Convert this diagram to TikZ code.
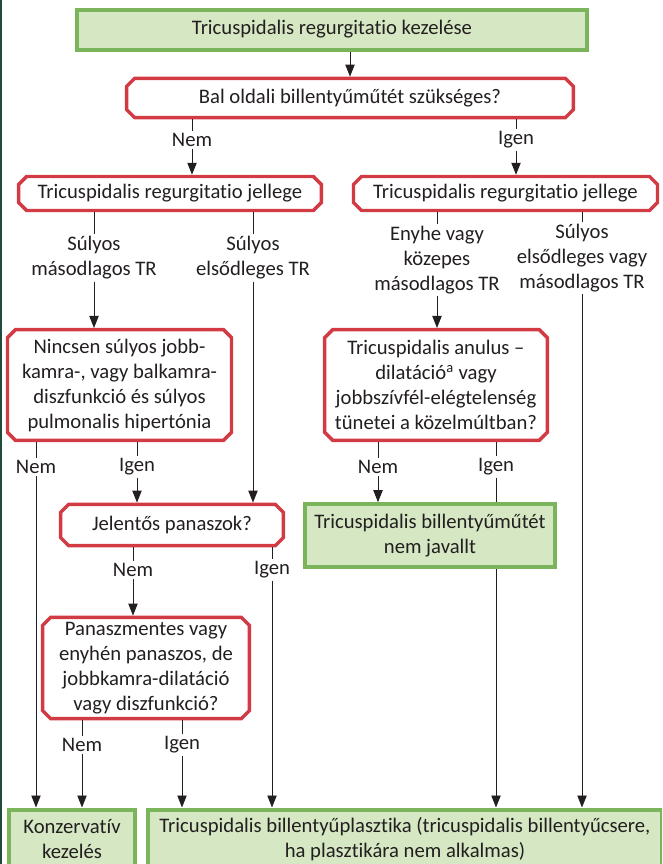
\documentclass[tikz,border=0pt]{standalone}
\usepackage{fontspec}
\setmainfont[Ligatures=NoCommon]{Carlito}
\usetikzlibrary{shapes.misc,arrows.meta}
\definecolor{boxgreen}{HTML}{D5E8C3}
\definecolor{linegreen}{HTML}{7AB55C}
\definecolor{boxred}{HTML}{D23B44}
\definecolor{sidebar}{HTML}{1F4A3E}
\definecolor{ink}{HTML}{231F20}

\begin{document}
\begin{tikzpicture}[x=0.75pt,y=-0.75pt,font=\fontsize{15.5}{18.75}\selectfont]
\tikzstyle{result}=[rectangle,draw=linegreen,fill=boxgreen,line width=3pt,align=center,inner sep=0pt,text=ink]
\tikzstyle{question}=[chamfered rectangle,chamfered rectangle xsep=3pt,chamfered rectangle ysep=3pt,draw=boxred,fill=white,line width=2.6pt,align=center,inner sep=0pt,text=ink]
\tikzstyle{lab}=[align=center,inner sep=1.5pt,text=ink]
\tikzstyle{conn}=[draw=ink,line width=0.7pt]
\tikzstyle{arr}=[conn,-{Triangle[length=9pt,width=7pt]}]
\useasboundingbox (0,0) rectangle (662,864);
\clip (0,0) rectangle (662,864);
\fill[white] (0,0) rectangle (662,864);
\fill[sidebar] (0,0) rectangle (2,864);
% boxes
\node[result,minimum width=382pt,minimum height=30pt] (top) at (332,29.5) {Tricuspidalis regurgitatio kezelése};
\node[question,minimum width=335pt,minimum height=29.5pt] (bal) at (350,98) {Bal oldali billentyűműtét szükséges?};
\node[question,minimum width=227pt,minimum height=25.5pt] (jl) at (170,193.5) {Tricuspidalis regurgitatio jellege};
\node[question,minimum width=228pt,minimum height=25.5pt] (jr) at (505.5,193.5) {Tricuspidalis regurgitatio jellege};
\node[question,minimum width=168pt,minimum height=83pt] (nincs) at (119.5,385) {Nincsen súlyos jobb-\\kamra-, vagy balkamra-\\diszfunkció és súlyos\\pulmonalis hipertónia};
\node[question,minimum width=167pt,minimum height=83pt] (anulus) at (436,385) {Tricuspidalis anulus –\\dilatáció\textsuperscript{a} vagy\\jobbszívfél-elégtelenség\\tünetei a közelmúltban?};
\node[question,minimum width=167pt,minimum height=31pt] (jelentos) at (172,525) {Jelentős panaszok?};
\node[question,minimum width=155pt,minimum height=76pt] (panasz) at (146,668) {Panaszmentes vagy\\enyhén panaszos, de\\jobbkamra-dilatáció\\vagy diszfunkció?};
\node[result,minimum width=94pt,minimum height=45pt] (konz) at (72,839.5) {Konzervatív\\kezelés};
\node[result,minimum width=386pt,minimum height=45pt] (plaszt) at (405,839.5) {Tricuspidalis billentyűplasztika (tricuspidalis billentyűcsere,\\ha plasztikára nem alkalmas)};
% labels
\node[lab] (nem0) at (192,140) {Nem};
\node[lab] (igen0) at (516,140) {Igen};
\node[lab] (sulyos1) at (94,258) {Súlyos\\másodlagos TR};
\node[lab] (sulyos2) at (253,258) {Súlyos\\elsődleges TR};
\node[lab] (enyhe) at (437,260) {Enyhe vagy\\közepes\\másodlagos TR};
\node[lab] (sulyos3) at (582,258) {Súlyos\\elsődleges vagy\\másodlagos TR};
\node[lab] (nem1) at (36,467) {Nem};
\node[lab] (igen1) at (137,467) {Igen};
\node[lab] (nem2) at (378,467) {Nem};
\node[lab] (igen2) at (496,467) {Igen};
\node[lab] (nem3) at (133,570) {Nem};
\node[lab] (igen3) at (272,570) {Igen};
\node[lab] (nem4) at (82,745) {Nem};
\node[lab] (igen4) at (182,745) {Igen};
% connectors
\draw[arr] (top.south -| bal.north) -- (bal.north);
\draw[conn] (bal.south -| nem0) -- (nem0);
\draw[arr] (nem0) -- (jl.north -| nem0);
\draw[conn] (bal.south -| igen0) -- (igen0);
\draw[arr] (igen0) -- (jr.north -| igen0);
\draw[conn] (jl.south -| sulyos1) -- (sulyos1);
\draw[arr] (sulyos1) -- (nincs.north -| sulyos1);
\draw[conn] (jl.south -| sulyos2) -- (sulyos2);
\draw[arr] (sulyos2) -- (jelentos.north -| sulyos2);
\draw[conn] (jr.south -| enyhe) -- (enyhe);
\draw[arr] (enyhe) -- (anulus.north -| enyhe);
\draw[conn] (jr.south -| sulyos3) -- (sulyos3);
\draw[arr] (sulyos3) -- (plaszt.north -| sulyos3);
\draw[conn] (nincs.south -| nem1) -- (nem1);
\draw[arr] (nem1) -- (konz.north -| nem1);
\draw[conn] (nincs.south -| igen1) -- (igen1);
\draw[arr] (igen1) -- (jelentos.north -| igen1);
\draw[conn] (anulus.south -| igen2) -- (igen2);
\draw[arr] (igen2) -- (plaszt.north -| igen2);
\draw[conn] (jelentos.south -| nem3) -- (nem3);
\draw[arr] (nem3) -- (panasz.north -| nem3);
\draw[conn] (jelentos.south -| igen3) -- (igen3);
\draw[arr] (igen3) -- (plaszt.north -| igen3);
\draw[conn] (panasz.south -| nem4) -- (nem4);
\draw[arr] (nem4) -- (konz.north -| nem4);
\draw[conn] (panasz.south -| igen4) -- (igen4);
\draw[arr] (igen4) -- (plaszt.north -| igen4);
% box drawn over the passing line
\node[result,minimum width=188pt,minimum height=47pt] (javallt) at (430,535.5) {Tricuspidalis billentyűműtét\\nem javallt};
\draw[conn] (anulus.south -| nem2) -- (nem2);
\draw[arr] (nem2) -- (javallt.north -| nem2);
\end{tikzpicture}
\end{document}
